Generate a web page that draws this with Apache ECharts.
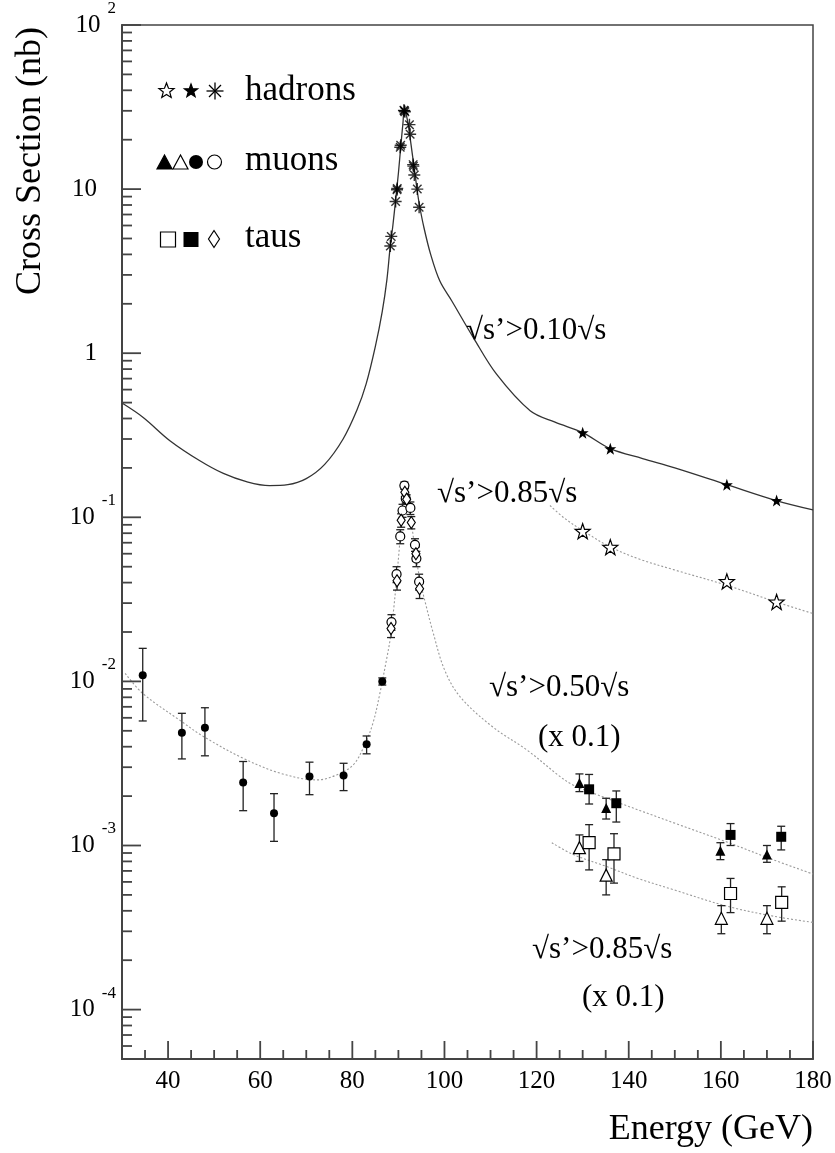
<!DOCTYPE html>
<html><head><meta charset="utf-8">
<script src="https://cdn.jsdelivr.net/npm/echarts@6/dist/echarts.min.js"></script>
<style>html,body{margin:0;padding:0;background:#fff}#c{width:835px;height:1153px}</style>
</head><body><div id="c"></div>
<script>
// ---------------- DATA ----------------
const xMajorTicks = [40, 60, 80, 100, 120, 140, 160, 180];
const xMinorTicks = [35, 45, 50, 55, 65, 70, 75, 85, 90, 95, 105, 110, 115, 125, 130, 135, 145, 150, 155, 165, 170, 175];
const yMajorTicks = [1e-4, 1e-3, 1e-2, 1e-1, 1, 10, 100];

const hadCurveX = [30, 34.6, 40.4, 46.9, 52, 57, 62, 66, 70, 74, 78, 81, 83, 85, 86.5, 87.5, 88.2, 88.8, 89.4, 90, 90.5, 91, 91.25, 91.6, 92, 92.5, 93, 93.5, 94, 94.5, 95.5, 97, 99, 101.6, 106.3, 111.3, 118.6, 124, 130, 136, 143, 150, 161.3, 172, 180];
const hadCurveY = [0.497, 0.406, 0.293, 0.221, 0.185, 0.165, 0.156, 0.158, 0.172, 0.21, 0.3, 0.45, 0.65, 1.1, 1.8, 2.8, 4.4, 6.0, 8.6, 12.5, 18, 25.5, 30, 29, 26, 21, 16.5, 13, 10.2, 8.2, 5.9, 4.0, 2.75, 2.08, 1.24, 0.745, 0.446, 0.38, 0.328, 0.262, 0.228, 0.2, 0.158, 0.1265, 0.111];
const had85CurveX = [122.9, 126, 130, 136, 142.4, 149.7, 161.3, 172, 180];
const had85CurveY = [0.118, 0.099, 0.083, 0.066, 0.0555, 0.048, 0.0385, 0.0305, 0.0259];
const lep50CurveX = [30.7, 34.5, 43, 47.6, 56.3, 64.3, 72.3, 76.6, 80.2, 82.5, 84.5, 86, 87.4, 88.2, 89, 89.6, 90.2, 90.7, 91.2, 91.7, 92.3, 93, 93.8, 94.8, 96, 97.5, 100, 103.4, 110.5, 117.9, 125.1, 127.9, 135, 149.6, 161.3, 171.3, 180];
const lep50CurveY = [0.0112, 0.00845, 0.00568, 0.00463, 0.0034, 0.00276, 0.00251, 0.00269, 0.0031, 0.0040, 0.0056, 0.0085, 0.0135, 0.018, 0.028, 0.042, 0.065, 0.10, 0.14, 0.14, 0.115, 0.085, 0.058, 0.04, 0.029, 0.02, 0.0118, 0.00806, 0.00527, 0.00382, 0.00263, 0.00234, 0.00195, 0.00138, 0.00105, 0.00082, 0.00067];
const lep85CurveX = [123.3, 128, 135.1, 142, 149.7, 161.3, 171.4, 180];
const lep85CurveY = [0.00104, 0.00088, 0.000746, 0.00063, 0.000538, 0.000427, 0.000371, 0.00034];

const hadPeakX = [88.25, 88.45, 89.4, 89.7, 89.75, 90.4, 90.5, 91.2, 91.3, 91.4, 92.4, 92.55, 93.2, 93.25, 93.45, 94.1, 94.5];
const hadPeakY = [4.5, 5.15, 8.4, 9.9, 10.1, 18.0, 18.5, 30.2, 30.0, 29.6, 24.7, 21.6, 14.1, 13.8, 12.2, 10.0, 7.75];
const hadHighX = [130.0, 136.0, 161.3, 172.1];
const had10Y = [0.328, 0.262, 0.158, 0.1265];
const had85Y = [0.0823, 0.0658, 0.0407, 0.0305];

const muLowX = [34.5, 43.0, 48.0, 56.3, 63.0, 70.7, 78.1, 83.1, 86.5];
const muLowY = [0.0109, 0.00487, 0.00522, 0.00242, 0.00157, 0.00263, 0.00267, 0.00414, 0.0100];
const muLowLo = [0.00574, 0.00337, 0.00352, 0.00163, 0.00106, 0.00204, 0.00216, 0.00362, 0.0095];
const muLowHi = [0.0159, 0.00639, 0.00691, 0.00325, 0.00207, 0.00322, 0.00317, 0.00465, 0.0105];

const muPeakX = [88.5, 89.6, 90.4, 90.9, 91.3, 91.6, 92.6, 93.6, 93.9, 94.5];
const muPeakY = [0.023, 0.045, 0.0765, 0.110, 0.156, 0.13, 0.114, 0.068, 0.056, 0.0405];
const muPeakLo = [0.0205, 0.040, 0.069, 0.100, 0.148, 0.122, 0.104, 0.062, 0.050, 0.036];
const muPeakHi = [0.0255, 0.050, 0.084, 0.120, 0.164, 0.138, 0.124, 0.074, 0.062, 0.045];
const tauPeakX = [88.4, 89.7, 90.6, 91.4, 91.8, 92.8, 93.8, 94.6];
const tauPeakY = [0.021, 0.041, 0.096, 0.142, 0.129, 0.093, 0.060, 0.0367];
const tauPeakLo = [0.0185, 0.036, 0.087, 0.134, 0.121, 0.085, 0.054, 0.032];
const tauPeakHi = [0.0235, 0.046, 0.105, 0.150, 0.137, 0.101, 0.066, 0.0415];

const mu50X = [129.3, 135.1, 159.9, 170.0];
const mu50Y = [0.00240, 0.00169, 0.00093, 0.00088];
const mu50Lo = [0.00213, 0.00145, 0.00082, 0.00079];
const mu50Hi = [0.00273, 0.00194, 0.00104, 0.00100];
const tau50X = [131.4, 137.3, 162.1, 173.1];
const tau50Y = [0.00220, 0.00181, 0.00116, 0.00113];
const tau50Lo = [0.00179, 0.00139, 0.00100, 0.00094];
const tau50Hi = [0.00271, 0.00215, 0.00136, 0.00131];
const mu85X = [129.3, 135.1, 160.1, 170.0];
const mu85Y = [0.00097, 0.00066, 0.00036, 0.00036];
const mu85Lo = [0.00080, 0.00050, 0.00029, 0.00029];
const mu85Hi = [0.00116, 0.00082, 0.00043, 0.00043];
const tau85X = [131.4, 136.8, 162.1, 173.2];
const tau85Y = [0.00104, 0.00089, 0.00051, 0.00045];
const tau85Lo = [0.00071, 0.00059, 0.00039, 0.000346];
const tau85Hi = [0.00134, 0.00118, 0.00063, 0.00056];

// ---------------- BUILD ----------------
const X_MIN = 30, X_MAX = 180, Y_MIN = 5e-5, Y_MAX = 100;
const FONT = '"Liberation Serif", "Times New Roman", serif';
const zip = (xs, ys) => xs.map((x, i) => [x, ys[i]]);
const zip3 = (xs, lo, hi) => xs.map((x, i) => [x, lo[i], hi[i]]);

function starPts(cx, cy, R, r) {
  const p = [];
  for (let i = 0; i < 10; i++) {
    const a = -Math.PI / 2 + i * Math.PI / 5;
    const rr = i % 2 === 0 ? R : r;
    p.push([cx + rr * Math.cos(a), cy + rr * Math.sin(a)]);
  }
  return p;
}
const starPath = 'path://' + starPts(0, 0, 10, 4).map((p, i) => (i ? 'L' : 'M') + p[0].toFixed(2) + ',' + p[1].toFixed(2)).join('') + 'Z';
const astPath = 'path://M0,-10L0,10M-10,0L10,0M-7.07,-7.07L7.07,7.07M-7.07,7.07L7.07,-7.07';

const yMinorTicks = [];
for (let e = -5; e <= 1; e++) for (let n = 2; n <= 9; n++) {
  const v = n * Math.pow(10, e);
  if (v >= Y_MIN && v <= Y_MAX) yMinorTicks.push(v);
}

function errRender(params, api) {
  const x = api.value(0), lo = api.value(1), hi = api.value(2);
  const a = api.coord([x, hi]), b = api.coord([x, lo]);
  const w = 4;
  const st = { stroke: '#222', lineWidth: 1.3 };
  return { type: 'group', children: [
    { type: 'line', shape: { x1: a[0], y1: a[1], x2: b[0], y2: b[1] }, style: st },
    { type: 'line', shape: { x1: a[0] - w, y1: a[1], x2: a[0] + w, y2: a[1] }, style: st },
    { type: 'line', shape: { x1: b[0] - w, y1: b[1], x2: b[0] + w, y2: b[1] }, style: st }
  ]};
}
function errSeries(xs, lo, hi) {
  return { type: 'custom', renderItem: errRender, data: zip3(xs, lo, hi), encode: { x: 0, y: [1, 2] }, z: 2, silent: true, clip: true };
}
function curve(xs, ys, dotted) {
  return { type: 'line', data: zip(xs, ys), showSymbol: false, smooth: 0.35, silent: true, z: 1,
    lineStyle: dotted ? { color: '#9a9a9a', width: 1.1, type: [2, 2] } : { color: '#333', width: 1.3 } };
}
function pts(xs, ys, symbol, size, fill, extra) {
  return Object.assign({ type: 'scatter', data: zip(xs, ys), symbol: symbol, symbolSize: size, z: 3, silent: true,
    itemStyle: { color: fill, borderColor: '#000', borderWidth: fill === '#000' ? 0 : 1.2, opacity: 1 } }, extra || {});
}

const chart = echarts.init(document.getElementById('c'), null, { renderer: 'canvas' });

const labelRich = {
  b: { fontFamily: FONT, fontSize: 25, color: '#000', lineHeight: 50 },
  sup: { fontFamily: FONT, fontSize: 17, color: '#000', verticalAlign: 'top', lineHeight: 17 },
  gap: { width: 7 },
  pad: { width: 19 }
};

const legendGfx = [];
function poly(points, fill) { return { type: 'polygon', shape: { points: points }, style: { fill: fill, stroke: '#000', lineWidth: 1.2 }, z: 10 }; }
legendGfx.push(poly(starPts(166.5, 91, 8, 3.4), '#fff'));
legendGfx.push(poly(starPts(191, 91, 7, 2.9), '#000'));
[[0, 8.5], [8.5, 0], [6, 6], [6, -6]].forEach(d => legendGfx.push({ type: 'line', shape: { x1: 215 - d[0], y1: 91 - d[1], x2: 215 + d[0], y2: 91 + d[1] }, style: { stroke: '#000', lineWidth: 1.3 }, z: 10 }));
legendGfx.push(poly([[164.5, 155], [157, 169], [172, 169]], '#000'));
legendGfx.push(poly([[180.5, 155], [173, 169], [188, 169]], '#fff'));
legendGfx.push({ type: 'circle', shape: { cx: 196, cy: 162, r: 7 }, style: { fill: '#000' }, z: 10 });
legendGfx.push({ type: 'circle', shape: { cx: 214.5, cy: 162, r: 7 }, style: { fill: '#fff', stroke: '#000', lineWidth: 1.2 }, z: 10 });
legendGfx.push({ type: 'rect', shape: { x: 160.5, y: 232, width: 15, height: 15 }, style: { fill: '#fff', stroke: '#000', lineWidth: 1.2 }, z: 10 });
legendGfx.push({ type: 'rect', shape: { x: 183.5, y: 232, width: 15, height: 15 }, style: { fill: '#000' }, z: 10 });
legendGfx.push(poly([[214, 230.5], [219.5, 239], [214, 247.5], [208.5, 239]], '#fff'));

function txt(x, y, s, size, align, rot) {
  return { type: 'text', x: x, y: y, rotation: rot || 0, z: 10, silent: true,
    style: { text: s, font: size + 'px ' + FONT, fill: '#000', align: align || 'left', verticalAlign: 'middle', textAlign: align || 'left', textVerticalAlign: 'middle' } };
}
const texts = [
  txt(245, 91, 'hadrons', 35),
  txt(245, 161, 'muons', 35),
  txt(245, 238, 'taus', 35),
  txt(466, 331, '√s’>0.10√s', 31),
  txt(437, 494, '√s’>0.85√s', 31),
  txt(489, 688, '√s’>0.50√s', 31),
  txt(538, 738, '(x 0.1)', 31),
  txt(532, 950, '√s’>0.85√s', 31),
  txt(582, 998, '(x 0.1)', 31),
  txt(813, 1130, 'Energy (GeV)', 36, 'right'),
  txt(31, 161, 'Cross Section (nb)', 36, 'center', Math.PI / 2)
];

const option = {
  backgroundColor: '#fff',
  animation: false,
  grid: { left: 122, right: 22, top: 24, bottom: 94, show: true, borderColor: '#444', borderWidth: 1.5, backgroundColor: 'transparent' },
  xAxis: [
    { type: 'value', min: X_MIN, max: X_MAX, position: 'bottom',
      axisLine: { show: true, onZero: false, lineStyle: { color: '#444', width: 2 } },
      axisTick: { show: false },
      axisLabel: { show: true, customValues: xMajorTicks, margin: 10, fontFamily: FONT, fontSize: 25, color: '#000' },
      splitLine: { show: false } }
  ],
  yAxis: [
    { type: 'log', logBase: 10, min: Y_MIN, max: Y_MAX, position: 'left',
      axisLine: { show: true, onZero: false, lineStyle: { color: '#444', width: 2 } },
      axisTick: { show: false },
      axisLabel: { show: true, customValues: yMajorTicks, margin: 6,
        formatter: function (v) {
          const e = Math.round(Math.log10(v));
          if (e === 0) return '{b|1}{pad|}';
          if (e === 1) return '{b|10}{pad|}';
          return '{b|10}{gap|}{sup|' + e + '}';
        }, rich: labelRich },
      splitLine: { show: false } }
  ],
  graphic: legendGfx.concat(texts),
  series: [
    curve(hadCurveX, hadCurveY, false),
    curve(had85CurveX, had85CurveY, true),
    curve(lep50CurveX, lep50CurveY, true),
    curve(lep85CurveX, lep85CurveY, true),
    errSeries(muLowX, muLowLo, muLowHi),
    errSeries(muPeakX, muPeakLo, muPeakHi),
    errSeries(tauPeakX, tauPeakLo, tauPeakHi),
    errSeries(mu50X, mu50Lo, mu50Hi),
    errSeries(tau50X, tau50Lo, tau50Hi),
    errSeries(mu85X, mu85Lo, mu85Hi),
    errSeries(tau85X, tau85Lo, tau85Hi),
    pts(hadPeakX, hadPeakY, astPath, 12, 'transparent', { itemStyle: { color: 'transparent', borderColor: '#000', borderWidth: 1.4 } }),
    pts(hadHighX, had10Y, starPath, 12, '#000'),
    pts(hadHighX, had85Y, starPath, 15, '#fff'),
    pts(muLowX, muLowY, 'circle', 8, '#000'),
    pts(muPeakX, muPeakY, 'circle', 9, '#fff'),
    pts(tauPeakX, tauPeakY, 'diamond', [8, 12], '#fff'),
    pts(mu50X, mu50Y, 'triangle', 10, '#000'),
    pts(tau50X, tau50Y, 'rect', 10, '#000'),
    pts(mu85X, mu85Y, 'triangle', 12, '#fff'),
    pts(tau85X, tau85Y, 'rect', 12, '#fff')
  ]
};
chart.setOption(option);

// axis ticks: positions from the chart's own scales (drawn as thin filled rects)
const tickGfx = [];
const finder = { xAxisIndex: 0, yAxisIndex: 0 };
const TICK_COL = '#444';
xMajorTicks.concat(xMinorTicks).forEach(v => {
  const len = xMajorTicks.indexOf(v) >= 0 ? 18 : 9;
  const p = chart.convertToPixel(finder, [v, Y_MIN]);
  tickGfx.push({ type: 'rect', silent: true, z: 50, shape: { x: p[0] - 0.9, y: p[1] - len, width: 1.8, height: len }, style: { fill: TICK_COL } });
});
yMajorTicks.concat(yMinorTicks).forEach(v => {
  const len = yMajorTicks.indexOf(v) >= 0 ? 19 : 10;
  const p = chart.convertToPixel(finder, [X_MIN, v]);
  tickGfx.push({ type: 'rect', silent: true, z: 50, shape: { x: p[0], y: p[1] - 0.9, width: len, height: 1.8 }, style: { fill: TICK_COL } });
});
chart.setOption({ graphic: legendGfx.concat(texts, tickGfx) });
</script></body></html>
